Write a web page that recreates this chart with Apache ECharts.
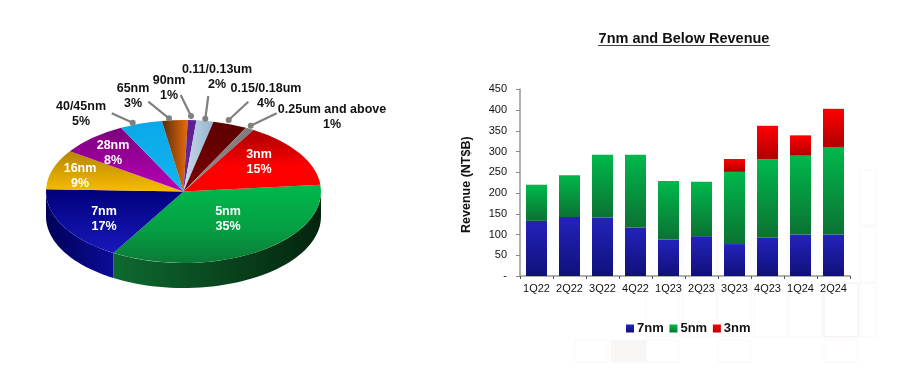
<!DOCTYPE html>
<html>
<head>
<meta charset="utf-8">
<style>html,body{margin:0;padding:0;background:#fff}#c{width:900px;height:377px}</style>
<script src="https://cdn.jsdelivr.net/npm/echarts@6/dist/echarts.min.js"></script>
</head>
<body>
<div id="c"></div>
<script>
// ---- data ----
const nodeLabels = ['5nm','7nm','16nm','28nm','40/45nm','65nm','90nm','0.11/0.13um','0.15/0.18um','0.25um and above','3nm'];
const nodeShares = [35,17,9,8,5,3,1,2,4,1,15];
const quarters = ['1Q22','2Q22','3Q22','4Q22','1Q23','2Q23','3Q23','4Q23','1Q24','2Q24'];
const rev7nm = [133,142,141,117,88,96,77,92,100,100];
const rev5nm = [87,101,151,175,141,131,174,189,190,211];
const rev3nm = [null,null,null,null,null,null,31,81,49,92];

// ---- layout / style ----
const PIE = {cx:183.5, cy:191.5, rx:137.5, ry:71.5, depth:25, startDeg:-5.4};
const LG = echarts.graphic.LinearGradient;
const v = (a,b)=>new LG(0,0,0,1,[{offset:0,color:a},{offset:1,color:b}]);
const h = (a,b)=>new LG(0,0,1,0,[{offset:0,color:a},{offset:1,color:b}]);
const FACE = {
 '5nm':new LG(0,0,0,1,[{offset:0,color:'#00b84c'},{offset:.55,color:'#05a044'},{offset:1,color:'#0b7a36'}]),
 '7nm':v('#00007c','#1818bc'),
 '16nm':v('#b48600','#f8bc00'),
 '28nm':v('#7c007c','#b800b8'),
 '40/45nm':v('#0aa8e8','#12b4f2'),
 '65nm':h('#5a2a08','#e86c0c'),
 '90nm':v('#5c2090','#6a28a0'),
 '0.11/0.13um':h('#c8d8e8','#94b4d0'),
 '0.15/0.18um':v('#5c0000','#7c0000'),
 '0.25um and above':v('#7c7c7c','#8c8c8c'),
 '3nm':new LG(0,0,0,1,[{offset:0,color:'#a80000'},{offset:.6,color:'#ff0000'},{offset:1,color:'#ff0000'}])
};
const WALL = {
 '5nm':h('#0e6a30','#04240e'),
 '7nm':h('#000058','#0c0c98')
};
const LABELS = {
 '5nm':[228,219,'#fff'],'7nm':[104,219,'#fff'],'16nm':[80,176,'#fff'],'28nm':[113,153,'#fff'],'3nm':[259,162,'#fff'],
 '40/45nm':[81,114,'#111'],'65nm':[133,96,'#111'],'90nm':[169,88,'#111'],
 '0.11/0.13um':[217,77,'#111'],'0.15/0.18um':[266,96,'#111'],'0.25um and above':[332,117,'#111']
};
const LEADERS = {
 '40/45nm':[111.7,113.3,132.7,122.7],'65nm':[148.3,101.7,169,118.3],'90nm':[180.7,95,191,116],
 '0.11/0.13um':[208.3,96,205.3,118.7],'0.15/0.18um':[248.3,101.7,228.7,120],'0.25um and above':[276.7,113.3,250.7,125.7]
};
const FAINT = [
 [646,283,33,54,0],[683,227,33,110,0],[718,227,33,110,0],[754,227,33,110,0],[789,227,33,110,0],[824,283,34,54,1],
 [860,170,16,55,0],[860,227,16,55,0],[860,283,16,54,0],
 [575,340,33,22,0],[611,340,35,22,2],[646,340,33,22,0],[718,340,33,22,0],[824,340,33,22,0]
];

const total = nodeShares.reduce((a,b)=>a+b,0);
function angles(i){
  let s=0; for(let k=0;k<i;k++) s+=nodeShares[k];
  const a0=(PIE.startDeg+s/total*360)*Math.PI/180;
  const a1=(PIE.startDeg+(s+nodeShares[i])/total*360)*Math.PI/180;
  return [a0,a1];
}
const pieRows = nodeShares.map((s,i)=>[s,i]);

function renderWall(p,api){
  const i=api.value(1), [a0,a1]=angles(i);
  const lo=Math.max(a0,0), hi=Math.min(a1,Math.PI);
  if(hi<=lo) return null;
  const top=[],bot=[],n=48;
  for(let k=0;k<=n;k++){
    const t=lo+(hi-lo)*k/n, x=PIE.cx+PIE.rx*Math.cos(t), y=PIE.cy+PIE.ry*Math.sin(t);
    top.push([x,y]); bot.unshift([x,y+PIE.depth]);
  }
  return {type:'polygon',shape:{points:top.concat(bot)},style:{fill:WALL[nodeLabels[i]]||'#222'}};
}
function renderFace(p,api){
  const i=api.value(1), [a0,a1]=angles(i);
  return {type:'sector',x:PIE.cx,y:PIE.cy,scaleY:PIE.ry/PIE.rx,
    shape:{cx:0,cy:0,r0:0,r:PIE.rx,startAngle:a0,endAngle:a1,clockwise:true},
    style:{fill:FACE[nodeLabels[i]]}};
}
function renderLabel(p,api){
  const i=api.value(1), name=nodeLabels[i], L=LABELS[name], ld=LEADERS[name], kids=[];
  if(ld){
    kids.push({type:'line',shape:{x1:ld[0],y1:ld[1],x2:ld[2],y2:ld[3]},style:{stroke:'#808080',lineWidth:2.2}});
    kids.push({type:'circle',shape:{cx:ld[2],cy:ld[3],r:3},style:{fill:'#808080'}});
  }
  kids.push({type:'text',style:{x:L[0],y:L[1],text:name+'\n'+api.value(0)+'%',fill:L[2],
    font:'bold 12.5px "Liberation Sans",Arial,sans-serif',align:'center',verticalAlign:'middle',lineHeight:15}});
  return {type:'group',children:kids};
}
const faintGraphics = FAINT.map(r=>({type:'rect',z:-1,silent:true,shape:{x:r[0],y:r[1],width:r[2],height:r[3]},
  style:{fill:r[4]===2?'#f8f7f5':'none',stroke:r[4]===1?'#f3ece9':'#faf7f6',lineWidth:1}}));

const font='"Liberation Sans",Arial,sans-serif';
const barSeries=(name,data,top,bottom)=>({name,type:'bar',stack:'rev',data,barWidth:21,
  itemStyle:{color:v(top,bottom)},z:3});

const chart=echarts.init(document.getElementById('c'),null,{renderer:'canvas'});
chart.setOption({
  animation:false,
  backgroundColor:'#fff',
  title:{text:'7nm and Below Revenue',left:679,top:26,textAlign:'center',
    textStyle:{fontFamily:font,fontWeight:'bold',fontSize:14.5,color:'#111'}},
  graphic:faintGraphics.concat([{type:'line',silent:true,shape:{x1:598,y1:45.5,x2:770,y2:45.5},style:{stroke:'#444',lineWidth:1.2}}]),
  legend:{data:['7nm','5nm','3nm'],left:621,top:317,itemWidth:8,itemHeight:8,itemGap:5.7,icon:'rect',
    textStyle:{fontFamily:font,fontWeight:'bold',fontSize:13,color:'#111',padding:[0,0,0,-2]}},
  grid:{left:520,top:89.3,width:330,height:186.7,containLabel:false},
  xAxis:{type:'category',data:quarters,
    axisLine:{lineStyle:{color:'#b0b0b0',width:2}},
    axisTick:{show:true,alignWithLabel:false,length:3,lineStyle:{color:'#555',width:1}},
    axisLabel:{fontFamily:font,fontSize:11,color:'#111',margin:7,interval:0}},
  yAxis:{type:'value',min:0,max:450,interval:50,
    name:'Revenue (NT$B)',nameLocation:'middle',nameGap:47,nameRotate:90,
    nameTextStyle:{fontFamily:font,fontWeight:'bold',fontSize:12.5,color:'#111',padding:[0,4,0,0]},
    splitLine:{show:false},
    axisLine:{show:true,lineStyle:{color:'#b0b0b0',width:2}},
    axisTick:{show:true,length:4,lineStyle:{color:'#888',width:1}},
    axisLabel:{fontFamily:font,fontSize:11,color:'#111',margin:13,formatter:x=>x===0?'-':String(x)}},
  series:[
    barSeries('7nm',rev7nm,'#2323bc','#10107a'),
    barSeries('5nm',rev5nm,'#00b84c','#0b7232'),
    barSeries('3nm',rev3nm,'#ff0000','#b00000'),
    {type:'custom',name:'wall',coordinateSystem:'none',data:pieRows,renderItem:renderWall,silent:true,z:2},
    {type:'custom',name:'face',coordinateSystem:'none',data:pieRows,renderItem:renderFace,silent:true,z:3},
    {type:'custom',name:'labels',coordinateSystem:'none',data:pieRows,renderItem:renderLabel,silent:true,z:4}
  ]
});
</script>
</body>
</html>
